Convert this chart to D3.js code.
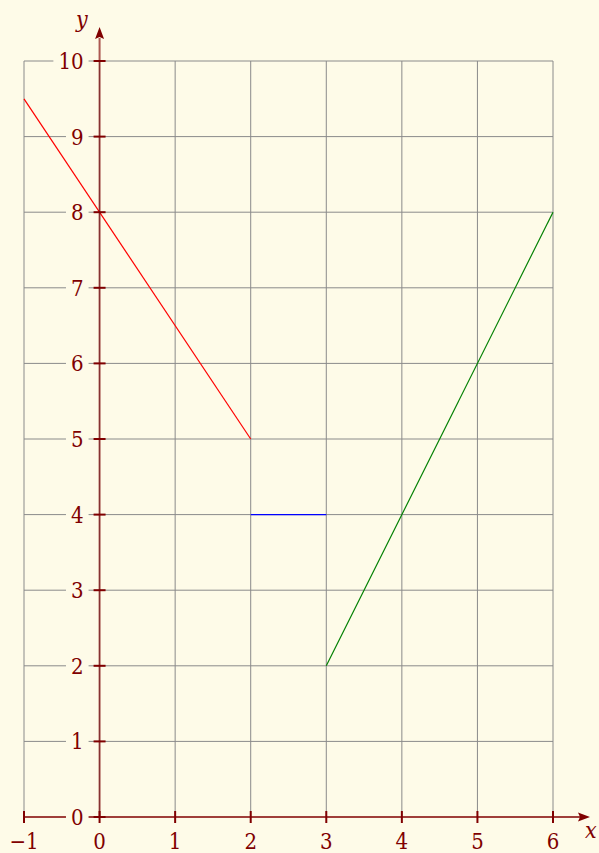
<!DOCTYPE html>
<html>
<head>
<meta charset="utf-8">
<script src="https://cdn.jsdelivr.net/npm/d3@7"></script>
<style>
  html, body { margin: 0; padding: 0; background: #fefbe8; }
  svg { display: block; }
  text { font-family: "DejaVu Serif", serif; font-stretch: condensed; fill: #800000; }
</style>
</head>
<body>
<svg id="chart" width="599" height="853"></svg>
<script>
// Piecewise-defined function: three segments
const redSegment   = [{x: -1, y: 9.5}, {x: 2, y: 5}];
const blueSegment  = [{x: 2, y: 4}, {x: 3, y: 4}];
const greenSegment = [{x: 3, y: 2}, {x: 6, y: 8}];

const xTicks = [-1, 0, 1, 2, 3, 4, 5, 6];
const yTicks = [0, 1, 2, 3, 4, 5, 6, 7, 8, 9, 10];
const xTickLabels = ["\u22121", "0", "1", "2", "3", "4", "5", "6"];

const bg = "#fefbe8";
const axisColor = "#800000";

const svg = d3.select("#chart");
const x = d3.scaleLinear().domain([-1, 6]).range([24, 553]);
const y = d3.scaleLinear().domain([0, 10]).range([817, 61]);

// grid
const grid = svg.append("g").attr("stroke", "#8a8a8a").attr("stroke-width", 1);
xTicks.forEach(t => grid.append("line")
  .attr("x1", x(t)).attr("x2", x(t)).attr("y1", y(0)).attr("y2", y(10)));
yTicks.filter(t => t > 0).forEach(t => grid.append("line")
  .attr("x1", x(-1)).attr("x2", x(6)).attr("y1", y(t)).attr("y2", y(t)));

// function segments
const line = d3.line().x(d => x(d.x)).y(d => y(d.y));
[[redSegment, "#ff0000"], [blueSegment, "#0000ff"], [greenSegment, "#008000"]]
  .forEach(([seg, col]) => svg.append("path").datum(seg)
    .attr("d", line).attr("fill", "none").attr("stroke", col).attr("stroke-width", 1.2));

// axes
svg.append("line").attr("x1", x(-1)).attr("x2", 580).attr("y1", y(0)).attr("y2", y(0))
  .attr("stroke", axisColor).attr("stroke-width", 1.6);
svg.append("path").attr("d", `M590,${y(0)} L578,${y(0) - 4.5} L580,${y(0)} L578,${y(0) + 4.5} Z`)
  .attr("fill", axisColor);
svg.append("line").attr("x1", x(0)).attr("x2", x(0)).attr("y1", y(0)).attr("y2", 38)
  .attr("stroke", axisColor).attr("stroke-opacity", 0.65).attr("stroke-width", 2);
svg.append("path").attr("d", `M${x(0)},27 L${x(0) - 4.5},39 L${x(0)},37 L${x(0) + 4.5},39 Z`)
  .attr("fill", axisColor);

// x ticks and labels
xTicks.forEach((t, i) => {
  svg.append("line").attr("x1", x(t)).attr("x2", x(t)).attr("y1", y(0) - 6).attr("y2", y(0) + 6)
    .attr("stroke", axisColor).attr("stroke-width", 2);
  svg.append("text").attr("x", x(t)).attr("y", 849).attr("text-anchor", "middle")
    .attr("font-size", 22).text(xTickLabels[i]);
});

// y ticks and labels (label boxes hide the grid behind them)
yTicks.forEach(t => {
  svg.append("line").attr("x1", x(0) - 6).attr("x2", x(0) + 6).attr("y1", y(t)).attr("y2", y(t))
    .attr("stroke", axisColor).attr("stroke-width", 2);
  const g = svg.append("g");
  const txt = g.append("text").attr("x", x(0) - 16).attr("y", y(t) + 8)
    .attr("text-anchor", "end").attr("font-size", 22).text(t);
  const b = txt.node().getBBox();
  g.insert("rect", "text").attr("x", b.x - 5).attr("y", y(t) - 4)
    .attr("width", b.width + 10).attr("height", 8).attr("fill", bg);
});

// axis names
svg.append("text").attr("x", 76).attr("y", 27).attr("font-size", 23)
  .attr("font-style", "italic").text("y");
svg.append("text").attr("x", 585).attr("y", 838).attr("font-size", 23)
  .attr("font-style", "italic").text("x");
</script>
</body>
</html>
